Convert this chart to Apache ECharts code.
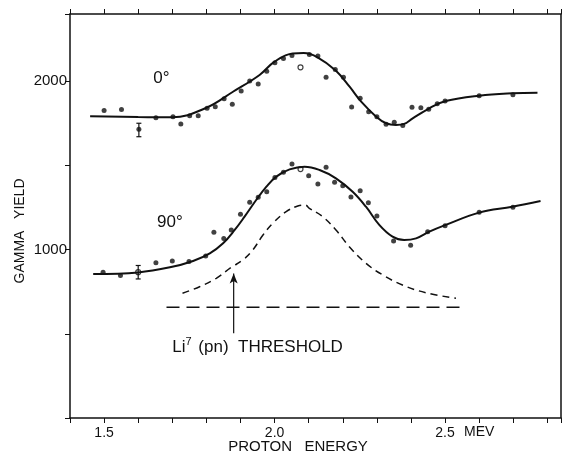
<!DOCTYPE html>
<html>
<head>
<meta charset="utf-8">
<script src="https://cdn.jsdelivr.net/npm/echarts@6/dist/echarts.min.js"></script>
<style>
html, body { margin: 0; padding: 0; background: #fff; }
#chart { width: 564px; height: 457px; }
</style>
</head>
<body>
<div id="chart"></div>
<script>
// 0° fit curve and measured points
const fit0 = [[1.459, 1792], [1.60, 1788], [1.70, 1786], [1.80, 1843], [1.878, 1938], [1.956, 2038], [2.0, 2117],
  [2.053, 2166], [2.085, 2168], [2.126, 2143], [2.18, 2063], [2.22, 1968], [2.254, 1879], [2.298, 1790],
  [2.327, 1751], [2.356, 1741], [2.38, 1747], [2.405, 1780], [2.454, 1840], [2.502, 1883], [2.6, 1915],
  [2.697, 1929], [2.771, 1932]];
const pts0 = [[1.5, 1826], [1.551, 1832], [1.602, 1715], [1.652, 1784], [1.702, 1790], [1.725, 1747], [1.751, 1796],
  [1.776, 1796], [1.802, 1840], [1.826, 1849], [1.852, 1897], [1.876, 1864], [1.902, 1943], [1.927, 2002],
  [1.952, 1984], [1.977, 2060], [2.001, 2111], [2.026, 2135], [2.051, 2153], [2.102, 2160], [2.127, 2151],
  [2.151, 2024], [2.178, 2071], [2.202, 2024], [2.226, 1848], [2.251, 1899], [2.276, 1820], [2.3, 1790],
  [2.327, 1745], [2.351, 1757], [2.376, 1737], [2.403, 1846], [2.429, 1843], [2.452, 1834], [2.477, 1867],
  [2.5, 1883], [2.6, 1915], [2.699, 1921]];
const open0 = [[2.076, 2083]];

// 90° fit curve and measured points
const fit90 = [[1.468, 855], [1.6, 865], [1.693, 895], [1.761, 933], [1.81, 978], [1.849, 1038], [1.883, 1117],
  [1.912, 1196], [1.946, 1295], [1.976, 1374], [2.005, 1434], [2.044, 1477], [2.088, 1493], [2.132, 1473],
  [2.18, 1424], [2.229, 1344], [2.268, 1255], [2.307, 1147], [2.346, 1077], [2.38, 1057], [2.415, 1067],
  [2.454, 1107], [2.502, 1147], [2.6, 1220], [2.697, 1255], [2.78, 1289]];
const pts90 = [[1.497, 866], [1.548, 846], [1.652, 923], [1.7, 933], [1.749, 929], [1.798, 962], [1.822, 1103],
  [1.851, 1067], [1.873, 1117], [1.9, 1210], [1.927, 1281], [1.952, 1311], [1.977, 1344], [2.001, 1429],
  [2.026, 1460], [2.051, 1509], [2.1, 1439], [2.127, 1390], [2.151, 1489], [2.176, 1400], [2.2, 1380],
  [2.224, 1313], [2.251, 1350], [2.275, 1279], [2.3, 1200], [2.349, 1052], [2.399, 1026], [2.449, 1107],
  [2.5, 1142], [2.6, 1222], [2.699, 1252]];
const open90 = [[1.6, 866], [2.076, 1479]];

// error bars: x, low, high
const errBars = [[1.602, 1671, 1751], [1.6, 826, 906]];

// dashed resonance curve
const dashCurve = [[1.73, 741], [1.78, 780], [1.829, 830], [1.873, 895], [1.907, 939], [1.936, 998],
  [1.966, 1087], [1.995, 1157], [2.034, 1226], [2.068, 1259], [2.09, 1265], [2.102, 1246], [2.141, 1196],
  [2.18, 1117], [2.219, 1018], [2.268, 919], [2.317, 850], [2.375, 790], [2.444, 744], [2.532, 711]];
// horizontal dashed base line
const baseLine = [[1.683, 658], [2.556, 658]];
// threshold arrow
const arrowLine = [[1.88, 503], [1.88, 858]];

// axis ranges and labels
const xMin = 1.4, xMax = 2.84, yMin = 0, yMax = 2400;
const xLabels = { 15: '1.5', 20: '2.0', 25: '2.5' };
const yLabels = [1000, 2000];

// text notes (data coords)
const notes = [
  { text: '0°', at: [1.668, 2020] },
  { text: '90°', at: [1.693, 1164] },
  { text: 'Li{s|7} (pn)  THRESHOLD', at: [1.70, 422], left: true }
];

const font = '"Liberation Sans", Arial, sans-serif';
const ink = '#111';

const chart = echarts.init(document.getElementById('chart'));

const option = {
  backgroundColor: '#fff',
  animation: false,
  grid: { left: 70, top: 14, right: 2, bottom: 39 },
  xAxis: [{
    type: 'value', min: xMin, max: xMax, interval: 0.1, position: 'bottom',
    axisLine: { onZero: false, lineStyle: { color: ink, width: 1.5 } },
    axisTick: { length: 5, lineStyle: { color: ink } },
    splitLine: { show: false },
    axisLabel: {
      margin: 8, color: ink, fontSize: 14, fontFamily: font,
      formatter: v => xLabels[Math.round(v * 10)] || ''
    }
  }, {
    type: 'value', min: xMin, max: xMax, interval: 0.1, position: 'top',
    axisLine: { onZero: false, lineStyle: { color: ink, width: 1.5 } },
    axisTick: { length: 5, lineStyle: { color: ink } },
    splitLine: { show: false },
    axisLabel: { show: false }
  }],
  yAxis: {
    type: 'value', min: yMin, max: yMax, interval: 500,
    axisLine: { show: true, onZero: false, lineStyle: { color: ink, width: 1.5 } },
    axisTick: { show: true, length: 5, lineStyle: { color: ink } },
    splitLine: { show: false },
    axisLabel: {
      margin: 3, color: ink, fontSize: 15, fontFamily: font,
      formatter: v => yLabels.indexOf(v) >= 0 ? String(v) : ''
    }
  },
  series: [
    { type: 'line', data: fit0, smooth: 0.4, symbol: 'none', lineStyle: { color: ink, width: 2 } },
    { type: 'scatter', data: pts0, symbolSize: 5, itemStyle: { color: ink } },
    { type: 'scatter', data: open0, symbolSize: 5, itemStyle: { color: '#fff', borderColor: ink, borderWidth: 1.2 } },
    { type: 'line', data: fit90, smooth: 0.4, symbol: 'none', lineStyle: { color: ink, width: 2 } },
    { type: 'scatter', data: pts90, symbolSize: 5, itemStyle: { color: ink } },
    { type: 'scatter', data: open90, symbolSize: 5, itemStyle: { color: '#fff', borderColor: ink, borderWidth: 1.2 } },
    { type: 'line', data: dashCurve, smooth: 0.4, symbol: 'none', lineStyle: { color: ink, width: 1.5, type: [7, 5] } },
    { type: 'line', data: baseLine, symbol: 'none', lineStyle: { color: ink, width: 1.5, type: [13, 7] } },
    {
      type: 'line', symbol: 'none', lineStyle: { color: ink, width: 1.2 },
      data: [arrowLine[0], { value: arrowLine[1], symbol: 'arrow', symbolSize: [6, 10], itemStyle: { color: ink } }]
    },
    {
      type: 'custom', data: errBars, encode: { x: 0, y: [1, 2] }, z: 3,
      renderItem: (params, api) => {
        const lo = api.coord([api.value(0), api.value(1)]);
        const hi = api.coord([api.value(0), api.value(2)]);
        const st = { stroke: ink, lineWidth: 1.2 };
        return {
          type: 'group', children: [
            { type: 'line', shape: { x1: lo[0], y1: lo[1], x2: hi[0], y2: hi[1] }, style: st },
            { type: 'line', shape: { x1: lo[0] - 2.5, y1: lo[1], x2: lo[0] + 2.5, y2: lo[1] }, style: st },
            { type: 'line', shape: { x1: hi[0] - 2.5, y1: hi[1], x2: hi[0] + 2.5, y2: hi[1] }, style: st }
          ]
        };
      }
    }
  ]
};
chart.setOption(option);

// frame's right edge, axis titles and notes
const g = [];
const rTop = chart.convertToPixel({ gridIndex: 0 }, [xMax, yMax]);
const rBot = chart.convertToPixel({ gridIndex: 0 }, [xMax, yMin]);
g.push({
  type: 'line', shape: { x1: rTop[0], y1: rTop[1], x2: rBot[0], y2: rBot[1] },
  style: { stroke: ink, lineWidth: 1.5 }
});
notes.forEach(n => {
  const p = chart.convertToPixel({ gridIndex: 0 }, n.at);
  g.push({
    type: 'text', x: p[0], y: p[1],
    style: {
      text: n.text, fill: ink, font: '17px ' + font,
      align: n.left ? 'left' : 'center', verticalAlign: 'middle',
      rich: { s: { fontSize: 11, fontFamily: font, padding: [0, 2, 9, 0] } }
    }
  });
});
g.push({
  type: 'text', x: 298, y: 447,
  style: { text: 'PROTON   ENERGY', fill: ink, font: '15px ' + font, align: 'center', verticalAlign: 'middle' }
});
const mev = chart.convertToPixel({ xAxisIndex: 0 }, 2.6);
g.push({
  type: 'text', x: mev, y: 432,
  style: { text: 'MEV', fill: ink, font: '14px ' + font, align: 'center', verticalAlign: 'middle' }
});
g.push({
  type: 'text', x: 20, y: 231, rotation: Math.PI / 2,
  style: { text: 'GAMMA   YIELD', fill: ink, font: '14px ' + font, align: 'center', verticalAlign: 'middle' }
});
chart.setOption({ graphic: g });
</script>
</body>
</html>
